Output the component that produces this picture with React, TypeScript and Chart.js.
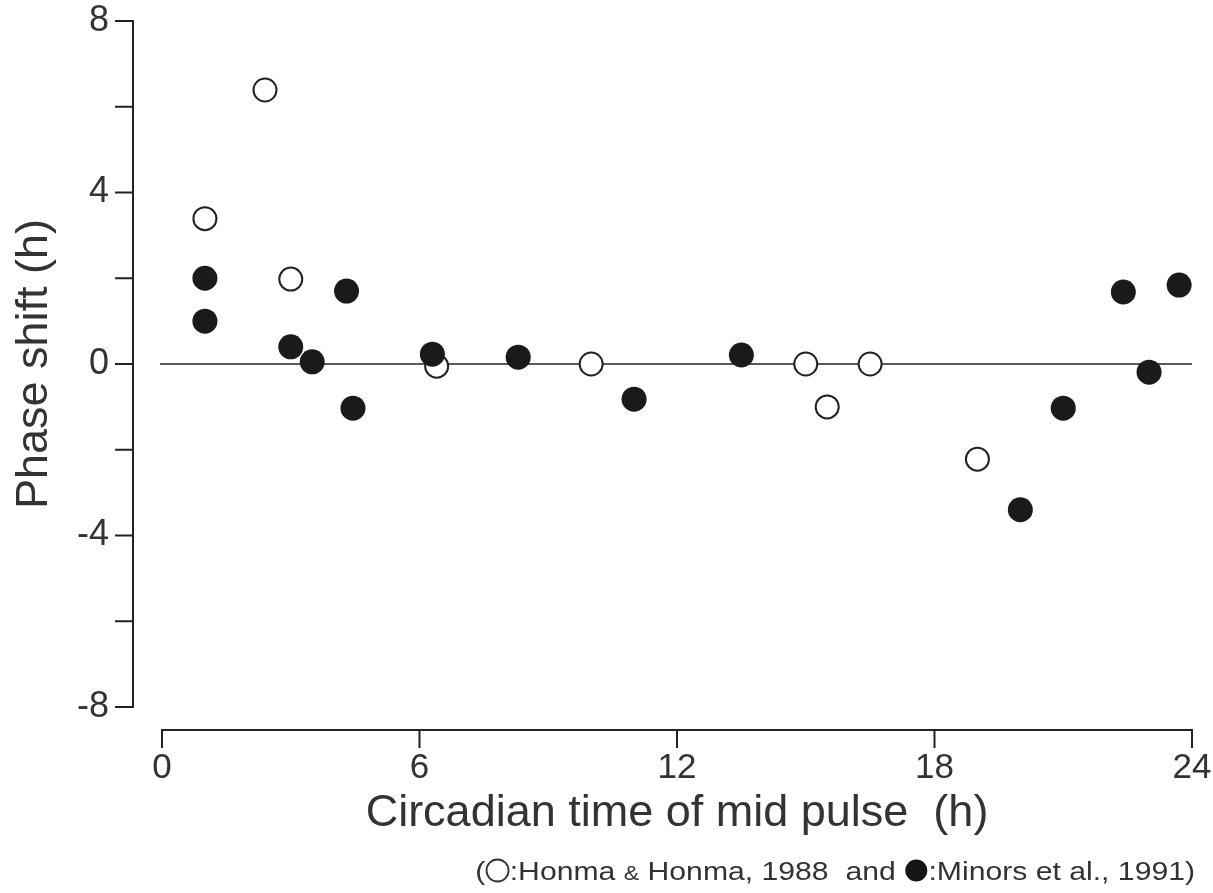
import React, { useEffect, useRef } from 'react';
import { Chart, registerables } from 'chart.js';

Chart.register(...registerables);

// Honma & Honma, 1988 (open circles)
const honmaX = [1.0, 2.4, 3.0, 6.4, 10.0, 15.0, 15.5, 16.5, 19.0];
const honmaY = [3.39, 6.39, 1.98, -0.05, 0.0, 0.0, -1.0, 0.0, -2.22];

// Minors et al., 1991 (filled circles)
const minorsX = [1.0, 1.0, 3.0, 3.5, 4.3, 4.45, 6.3, 8.3, 11.0, 13.5, 20.0, 21.0, 22.4, 23.0, 23.7];
const minorsY = [2.0, 1.0, 0.4, 0.05, 1.7, -1.03, 0.23, 0.16, -0.82, 0.21, -3.4, -1.03, 1.68, -0.19, 1.84];

const xTicks = [0, 6, 12, 18, 24];
const yTicks = [-8, -6, -4, -2, 0, 2, 4, 6, 8];
const yLabelled = [-8, -4, 0, 4, 8];

const xTitle = 'Circadian time of mid pulse  (h)';
const yTitle = 'Phase shift (h)';
// footnote pieces: text, with markers "open"/"filled" and a small "&"
const footParts = ['(', 'OPEN', ':Honma ', 'AMP', ' Honma, 1988  and ', 'FILLED', ':Minors et al., 1991)'];

const TEXT = '#333333';
const LINE = '#222222';
const FONT = '"Liberation Sans", Arial, Helvetica, sans-serif';

const axesPlugin = {
  id: 'customAxes',
  beforeDatasetsDraw(chart: any) {
    const { ctx, chartArea, scales } = chart;
    const x = scales.x;
    const y = scales.y;
    ctx.save();
    ctx.strokeStyle = LINE;
    // zero line
    ctx.lineWidth = 1.6;
    const y0 = y.getPixelForValue(0);
    ctx.beginPath();
    ctx.moveTo(chartArea.left - 2, y0);
    ctx.lineTo(chartArea.right, y0);
    ctx.stroke();

    // y axis (detached to the left)
    ctx.lineWidth = 2;
    const ax = chartArea.left - 29;
    ctx.beginPath();
    ctx.moveTo(ax, y.getPixelForValue(yTicks[yTicks.length - 1]) - 1);
    ctx.lineTo(ax, y.getPixelForValue(yTicks[0]) + 1);
    for (const v of yTicks) {
      const py = y.getPixelForValue(v);
      ctx.moveTo(ax - 18, py);
      ctx.lineTo(ax, py);
    }
    ctx.stroke();

    // x axis (detached below)
    const ay = chartArea.bottom + 23;
    ctx.beginPath();
    ctx.moveTo(x.getPixelForValue(xTicks[0]) - 1, ay);
    ctx.lineTo(x.getPixelForValue(xTicks[xTicks.length - 1]) + 1, ay);
    for (const v of xTicks) {
      const px = x.getPixelForValue(v);
      ctx.moveTo(px, ay);
      ctx.lineTo(px, ay + 18);
    }
    ctx.stroke();
    ctx.restore();
  },
  afterDraw(chart: any) {
    const { ctx } = chart;
    ctx.save();
    const sx = 1.16;
    const right = 1195;
    ctx.translate(right, 0);
    ctx.scale(sx, 1);
    ctx.fillStyle = TEXT;
    ctx.textAlign = 'left';
    ctx.textBaseline = 'alphabetic';
    const mainFont = `26px ${FONT}`;
    const smallFont = `20px ${FONT}`;
    const markerW = 21;
    const widths = footParts.map((p) => {
      if (p === 'OPEN' || p === 'FILLED') return markerW;
      ctx.font = p === 'AMP' ? smallFont : mainFont;
      return ctx.measureText(p === 'AMP' ? '&' : p).width;
    });
    const total = widths.reduce((a, b) => a + b, 0);
    let cx = -total;
    const base = 880;
    footParts.forEach((p, i) => {
      if (p === 'OPEN' || p === 'FILLED') {
        ctx.save();
        ctx.translate(cx + markerW / 2, base - 9.5);
        ctx.scale(1 / sx, 1);
        ctx.beginPath();
        ctx.arc(0, 0, 11, 0, Math.PI * 2);
        if (p === 'FILLED') {
          ctx.fillStyle = '#151515';
          ctx.fill();
        } else {
          ctx.lineWidth = 1.8;
          ctx.strokeStyle = TEXT;
          ctx.stroke();
        }
        ctx.restore();
      } else {
        ctx.font = p === 'AMP' ? smallFont : mainFont;
        ctx.fillText(p === 'AMP' ? '&' : p, cx, base);
      }
      cx += widths[i];
    });
    ctx.restore();
  },
};

export default function App() {
  const canvasRef = useRef<HTMLCanvasElement | null>(null);

  useEffect(() => {
    if (!canvasRef.current) return;
    const chart = new Chart(canvasRef.current, {
      type: 'scatter',
      data: {
        datasets: [
          {
            label: 'Minors et al., 1991',
            data: minorsX.map((v, i) => ({ x: v, y: minorsY[i] })),
            pointRadius: 12.5,
            pointBackgroundColor: '#1a1a1a',
            pointBorderColor: '#1a1a1a',
            pointBorderWidth: 0,
          },
          {
            label: 'Honma & Honma, 1988',
            data: honmaX.map((v, i) => ({ x: v, y: honmaY[i] })),
            pointRadius: 11.5,
            pointBackgroundColor: '#ffffff',
            pointBorderColor: '#222222',
            pointBorderWidth: 2,
          },
        ],
      },
      options: {
        animation: false,
        responsive: false,
        maintainAspectRatio: false,
        layout: { padding: { top: 21, right: 21, left: 0, bottom: 0 } },
        plugins: {
          legend: { display: false },
          tooltip: { enabled: false },
        },
        scales: {
          x: {
            type: 'linear',
            min: 0,
            max: 24,
            afterFit: (s: any) => {
              s.height = 893 - 707;
              s.paddingLeft = 0;
              s.paddingRight = 0;
            },
            afterBuildTicks: (s: any) => {
              s.ticks = xTicks.map((v) => ({ value: v }));
            },
            grid: { display: false, drawTicks: false },
            border: { display: false },
            ticks: {
              padding: 40,
              color: TEXT,
              font: { family: FONT, size: 35 },
              maxRotation: 0,
              autoSkip: false,
              callback: (v: any) => String(v),
            },
            title: {
              display: true,
              text: xTitle,
              color: TEXT,
              font: { family: FONT, size: 45 },
              padding: { top: 0, bottom: 52 },
            },
          },
          y: {
            type: 'linear',
            min: -8,
            max: 8,
            afterFit: (s: any) => {
              s.width = 162;
              s.paddingTop = 0;
              s.paddingBottom = 0;
            },
            afterBuildTicks: (s: any) => {
              s.ticks = yTicks.map((v) => ({ value: v }));
            },
            grid: { display: false, drawTicks: false },
            border: { display: false },
            ticks: {
              padding: 53,
              color: TEXT,
              font: { family: FONT, size: 36 },
              autoSkip: false,
              callback: (v: any) => (yLabelled.includes(Number(v)) ? String(v) : ''),
            },
            title: {
              display: true,
              text: yTitle,
              color: TEXT,
              font: { family: FONT, size: 45 },
              padding: { top: 8, bottom: 0 },
            },
          },
        },
      },
      plugins: [axesPlugin],
    });
    return () => chart.destroy();
  }, []);

  return (
    <div style={{ position: 'fixed', left: 0, top: 0, width: 1213, height: 893, background: '#fff' }}>
      <canvas ref={canvasRef} width={1213} height={893} style={{ width: 1213, height: 893, display: 'block' }} />
    </div>
  );
}
